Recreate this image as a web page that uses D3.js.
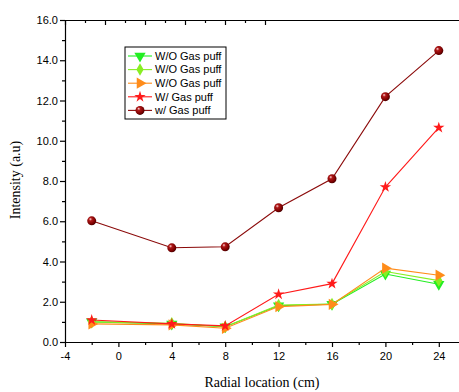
<!DOCTYPE html>
<html>
<head>
<meta charset="utf-8">
<script src="https://cdn.jsdelivr.net/npm/d3@7"></script>
<style>
  body { margin: 0; background: #fff; }
  svg { display: block; }
</style>
</head>
<body>
<svg id="chart"></svg>
<script>
const xs = [-2, 4, 8, 12, 16, 20, 24];
const woGreen = [1.0, 0.9, 0.76, 1.8, 1.88, 3.38, 2.87];
const woLime = [1.0, 0.93, 0.76, 1.84, 1.89, 3.5, 3.05];
const woOrange = [0.9, 0.85, 0.68, 1.76, 1.87, 3.67, 3.32];
const wRed = [1.09, 0.9, 0.8, 2.37, 2.9, 7.7, 10.65];
const wDark = [6.02, 4.68, 4.73, 6.67, 8.11, 12.19, 14.48];
const xTicks = [-4, 0, 4, 8, 12, 16, 20, 24];
const yTicks = [0, 2, 4, 6, 8, 10, 12, 14, 16];

const series = [
  { name: "W/O Gas puff", values: woGreen, color: "#22ee22", shape: "down" },
  { name: "W/O Gas puff", values: woLime, color: "#88ee22", shape: "diamond" },
  { name: "W/O Gas puff", values: woOrange, color: "#ff8c1a", shape: "right" },
  { name: "W/ Gas puff", values: wRed, color: "#ff1a1a", shape: "star" },
  { name: "w/ Gas puff", values: wDark, color: "#8b0a0a", shape: "ball" }
];

const width = 459, height = 392;
const margin = { top: 20, left: 65, bottom: 50 };

const x = d3.scaleLinear().domain([-4, 26]).range([margin.left, margin.left + 30 * 13.35]);
const y = d3.scaleLinear().domain([0, 16]).range([height - margin.bottom, margin.top]);

const svg = d3.select("#chart").attr("width", width).attr("height", height);

const defs = svg.append("defs");
const grad = defs.append("radialGradient").attr("id", "ball")
  .attr("cx", "0.4").attr("cy", "0.4").attr("r", "0.6")
  .attr("fx", "0.35").attr("fy", "0.3");
grad.append("stop").attr("offset", "0").attr("stop-color", "#ffdddd");
grad.append("stop").attr("offset", "0.3").attr("stop-color", "#b01818");
grad.append("stop").attr("offset", "0.8").attr("stop-color", "#7a0000");
grad.append("stop").attr("offset", "1").attr("stop-color", "#4a0000");

// axes
const font = "'Liberation Sans', Arial, sans-serif";
const gx = svg.append("g").attr("transform", `translate(0,${y(0)})`)
  .call(d3.axisBottom(x).tickValues(xTicks).tickSize(5).tickSizeOuter(0).tickFormat(d3.format("d")));
svg.append("g").attr("transform", `translate(0,${y(0)})`)
  .call(d3.axisBottom(x).tickValues(d3.range(-2, 26, 4)).tickSize(3).tickFormat(""))
  .call(g => g.select(".domain").remove());
gx.selectAll("text").attr("font-family", font).attr("font-size", 11).attr("dy", "0.9em").text(d => d);

const gy = svg.append("g").attr("transform", `translate(${margin.left},0)`)
  .call(d3.axisLeft(y).tickValues(yTicks).tickSize(5).tickSizeOuter(0).tickFormat(d3.format(".1f")));
svg.append("g").attr("transform", `translate(${margin.left},0)`)
  .call(d3.axisLeft(y).tickValues(d3.range(1, 16, 2)).tickSize(3).tickFormat(""))
  .call(g => g.select(".domain").remove());
gy.selectAll("text").attr("font-family", font).attr("font-size", 11).attr("x", -7);

// top axis (frame)
const xTop = d3.scaleLinear().domain([0, 20]).range([margin.left, margin.left + 400]);
svg.append("g").attr("transform", `translate(0,${margin.top})`)
  .call(d3.axisTop(xTop).tickValues(d3.range(0, 11, 2)).tickSize(-5).tickSizeOuter(0).tickFormat(""));
svg.append("g").attr("transform", `translate(0,${margin.top})`)
  .call(d3.axisTop(xTop).tickValues(d3.range(1, 11, 2)).tickSize(-3).tickFormat(""))
  .call(g => g.select(".domain").remove());
svg.selectAll(".domain, .tick line").attr("stroke", "#000").attr("stroke-width", 1.2);

// titles
svg.append("text").attr("x", 262).attr("y", 387).attr("text-anchor", "middle")
  .attr("font-family", "'Liberation Serif', 'Times New Roman', serif").attr("font-size", 14)
  .text("Radial location (cm)");
svg.append("text").attr("transform", "translate(20,180) rotate(-90)").attr("text-anchor", "middle")
  .attr("font-family", "'Liberation Serif', 'Times New Roman', serif").attr("font-size", 14)
  .text("Intensity (a.u)");

function marker(g, s, cx, cy) {
  if (s.shape === "ball") {
    g.append("circle").attr("cx", cx).attr("cy", cy).attr("r", 4.5).attr("fill", "url(#ball)");
    return;
  }
  let sym, size, rot = 0;
  if (s.shape === "down") { sym = d3.symbolTriangle; size = 55; rot = 180; }
  if (s.shape === "right") { sym = d3.symbolTriangle; size = 55; rot = 90; }
  if (s.shape === "diamond") { sym = d3.symbolDiamond; size = 45; }
  if (s.shape === "star") { sym = d3.symbolStar; size = 40; }
  g.append("path").attr("d", d3.symbol(sym, size)())
    .attr("transform", `translate(${cx},${cy}) rotate(${rot})`).attr("fill", s.color);
}

const line = d3.line().x((d, i) => x(xs[i])).y(d => y(d));
series.forEach(s => {
  const g = svg.append("g");
  g.append("path").datum(s.values).attr("d", line).attr("fill", "none")
    .attr("stroke", s.color).attr("stroke-width", 1.1);
  s.values.forEach((v, i) => marker(g, s, x(xs[i]), y(v)));
});

// legend
const lg = svg.append("g").attr("transform", "translate(125,47)");
lg.append("rect").attr("width", 101).attr("height", 72).attr("fill", "#fff")
  .attr("stroke", "#000").attr("stroke-width", 1);
series.forEach((s, i) => {
  const yy = 9 + i * 13.6;
  lg.append("line").attr("x1", 3).attr("x2", 27).attr("y1", yy).attr("y2", yy)
    .attr("stroke", s.color).attr("stroke-width", 1.1);
  marker(lg, s, 15, yy);
  lg.append("text").attr("x", 30).attr("y", yy).attr("dy", "0.35em")
    .attr("font-family", font).attr("font-size", 11).text(s.name);
});
</script>
</body>
</html>
